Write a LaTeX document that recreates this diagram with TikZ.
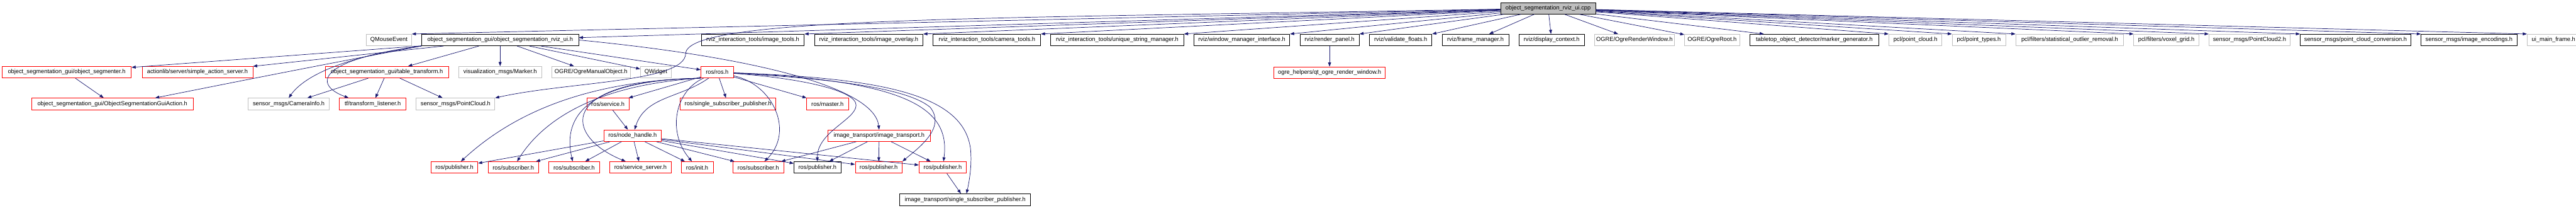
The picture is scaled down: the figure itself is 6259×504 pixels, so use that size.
\documentclass[tikz,border=0pt]{standalone}
\usepackage{fontspec}
\usepackage{tikz}
\usetikzlibrary{arrows.meta,positioning}
\newfontfamily\dotfont{Liberation Sans}
\definecolor{EdgeBlue}{HTML}{191970}
\definecolor{DocRed}{HTML}{FF0000}
\definecolor{ExtGrey}{HTML}{BFBFBF}
\definecolor{RootGrey}{HTML}{BFBFBF}

\begin{document}
\begin{tikzpicture}[x=0.5pt,y=-0.5pt,
  fbox/.style={draw=black,fill=white,font=\dotfont\fontsize{7.1}{8.5}\selectfont,
    minimum height=14pt,inner sep=0pt,line width=0.6pt},
  rbox/.style={fbox,draw=DocRed},
  gbox/.style={fbox,draw=ExtGrey},
  rootbox/.style={fbox,fill=RootGrey},
  arr/.style={-{Triangle[length=5pt,width=3.6pt]},line width=0.55pt,draw=EdgeBlue}
]
  \useasboundingbox (0,0) rectangle (6259,504);

  % Root
  \node[rootbox,minimum width=115.5pt] (cpp) at (3761.5,20) {object\_segmentation\_rviz\_ui.cpp};

  % Level 1
  \node[gbox,minimum width=55pt] (qmouse) at (945,97) {QMouseEvent};
  \node[fbox,minimum width=190.5pt,right=11.75pt of qmouse] (rvizuih) {object\_segmentation\_gui/object\_segmentation\_rviz\_ui.h};
  \node[fbox,minimum width=125pt] (imgtools) at (1829,97) {rviz\_interaction\_tools/image\_tools.h};
  \node[fbox,minimum width=132pt,right=11.75pt of imgtools] (imgoverlay) {rviz\_interaction\_tools/image\_overlay.h};
  \node[fbox,minimum width=130.5pt,right=11.75pt of imgoverlay] (camtools) {rviz\_interaction\_tools/camera\_tools.h};
  \node[fbox,minimum width=161.5pt,right=11.75pt of camtools] (uniqstr) {rviz\_interaction\_tools/unique\_string\_manager.h};
  \node[fbox,minimum width=116.5pt,right=11.75pt of uniqstr] (winmgr) {rviz/window\_manager\_interface.h};
  \node[fbox,minimum width=72pt,right=11.75pt of winmgr] (renderpanel) {rviz/render\_panel.h};
  \node[fbox,minimum width=76pt,right=11.75pt of renderpanel] (valfloats) {rviz/validate\_floats.h};
  \node[fbox,minimum width=81pt,right=11.75pt of valfloats] (framemgr) {rviz/frame\_manager.h};
  \node[fbox,minimum width=79.5pt,right=11.75pt of framemgr] (dispctx) {rviz/display\_context.h};
  \node[gbox,minimum width=97pt,right=11.75pt of dispctx] (ogrerw) {OGRE/OgreRenderWindow.h};
  \node[gbox,minimum width=67pt,right=11.75pt of ogrerw] (ogreroot) {OGRE/OgreRoot.h};
  \node[fbox,minimum width=156.5pt,right=11.75pt of ogreroot] (markergen) {tabletop\_object\_detector/marker\_generator.h};
  \node[gbox,minimum width=64.5pt,right=11.75pt of markergen] (pclcloud) {pcl/point\_cloud.h};
  \node[gbox,minimum width=65pt,right=11.75pt of pclcloud] (pcltypes) {pcl/point\_types.h};
  \node[gbox,minimum width=131pt,right=11.75pt of pcltypes] (pclsor) {pcl/filters/statistical\_outlier\_removal.h};
  \node[gbox,minimum width=79pt,right=11.75pt of pclsor] (pclvoxel) {pcl/filters/voxel\_grid.h};
  \node[gbox,minimum width=98.5pt,right=11.75pt of pclvoxel] (pctwo) {sensor\_msgs/PointCloud2.h};
  \node[fbox,minimum width=134.5pt,right=11.75pt of pctwo] (pcconv) {sensor\_msgs/point\_cloud\_conversion.h};
  \node[fbox,minimum width=116.5pt,right=11.75pt of pcconv] (imgenc) {sensor\_msgs/image\_encodings.h};
  \node[gbox,minimum width=64pt,right=11.75pt of imgenc] (uimain) {ui\_main\_frame.h};

  % Level 2
  \node[rbox,minimum width=157pt] (segmenter) at (162,175) {object\_segmentation\_gui/object\_segmenter.h};
  \node[rbox,minimum width=134.5pt,right=12.5pt of segmenter] (actionsrv) {actionlib/server/simple\_action\_server.h};
  \node[rbox,minimum width=150pt] (tabletrans) at (940,175) {object\_segmentation\_gui/table\_transform.h};
  \node[gbox,minimum width=100.5pt,right=11.75pt of tabletrans] (marker) {visualization\_msgs/Marker.h};
  \node[gbox,minimum width=95.5pt,right=11.75pt of marker] (ogremo) {OGRE/OgreManualObject.h};
  \node[gbox,minimum width=37.5pt,right=11.75pt of ogremo] (qwidget) {QWidget};
  \node[rbox,minimum width=39.5pt] (rosh) at (1742.5,175) {ros/ros.h};
  \node[rbox,minimum width=135.5pt,below=25pt of renderpanel] (qtogrerw) {ogre\_helpers/qt\_ogre\_render\_window.h};

  % Level 3
  \node[rbox,minimum width=196pt] (guiaction) at (273,252) {object\_segmentation\_gui/ObjectSegmentationGuiAction.h};
  \node[gbox,minimum width=98.5pt] (camerainfo) at (701.5,252) {sensor\_msgs/CameraInfo.h};
  \node[rbox,minimum width=81pt,right=11.75pt of camerainfo] (tflistener) {tf/transform\_listener.h};
  \node[gbox,minimum width=95.5pt,right=11.75pt of tflistener] (pointcloud) {sensor\_msgs/PointCloud.h};
  \node[rbox,minimum width=51pt] (service) at (1477,252) {ros/service.h};
  \node[rbox,minimum width=116pt] (ssp) at (1769,252) {ros/single\_subscriber\_publisher.h};
  \node[rbox,minimum width=51.5pt] (master) at (2010.5,252) {ros/master.h};

  % Level 4
  \node[rbox,minimum width=70pt] (nodehandle) at (1537,329) {ros/node\_handle.h};
  \node[rbox,minimum width=125pt] (imgtransport) at (2136,329) {image\_transport/image\_transport.h};

  % Level 5
  \node[rbox,minimum width=57pt] (pubA) at (1104,406) {ros/publisher.h};
  \node[rbox,minimum width=61pt,right=12pt of pubA] (subA) {ros/subscriber.h};
  \node[rbox,minimum width=61.5pt,right=12pt of subA] (subB) {ros/subscriber.h};
  \node[rbox,minimum width=74.5pt,right=12pt of subB] (srvserver) {ros/service\_server.h};
  \node[rbox,minimum width=39pt,right=11.5pt of srvserver] (init) {ros/init.h};
  \node[rbox,minimum width=61.5pt] (subC) at (1842.5,406) {ros/subscriber.h};
  \node[fbox,minimum width=57pt,right=12pt of subC] (pubB) {ros/publisher.h};
  \node[rbox,minimum width=57pt] (pubC) at (2135,406) {ros/publisher.h};
  \node[rbox,minimum width=57.5pt] (pubD) at (2290.5,406) {ros/publisher.h};

  % Level 6
  \node[fbox,minimum width=159pt] (itssp) at (2345,484) {image\_transport/single\_subscriber\_publisher.h};

  % cpp includes
  \draw[arr] (cpp)--(qmouse.north east); \draw[arr] (cpp)--(rvizuih);
  \draw[arr] (cpp)--(imgtools.north east); \draw[arr] (cpp)--(imgoverlay.north east);
  \draw[arr] (cpp)--(camtools.north east); \draw[arr] (cpp)--(uniqstr.north east);
  \draw[arr] (cpp)--(winmgr.north east); \draw[arr] (cpp)--(renderpanel.north east);
  \draw[arr] (cpp)--(valfloats.north east); \draw[arr] (cpp)--(framemgr);
  \draw[arr] (cpp)--(dispctx); \draw[arr] (cpp)--(ogrerw);
  \draw[arr] (cpp)--(ogreroot); \draw[arr] (cpp)--(markergen);
  \draw[arr] (cpp)--(pclcloud.north west); \draw[arr] (cpp)--(pcltypes.north west);
  \draw[arr] (cpp)--(pclsor.north west); \draw[arr] (cpp)--(pclvoxel.north west);
  \draw[arr] (cpp)--(pctwo.north west); \draw[arr] (cpp)--(pcconv.north west);
  \draw[arr] (cpp)--(imgenc.north west); \draw[arr] (cpp)--(uimain.north west);
  \draw[arr] (cpp) .. controls (2400,45) and (1668,40) .. (1666,130)
    .. controls (1664,200) and (1380,198) .. (pointcloud.north east);

  % rviz ui header
  \draw[arr] (rvizuih)--(segmenter); \draw[arr] (rvizuih)--(actionsrv);
  \draw[arr] (rvizuih.south west) .. controls (820,150) and (640,185) .. (guiaction.8);
  \draw[arr] (rvizuih.south west) .. controls (820,140) and (735,190) .. (camerainfo.north);
  \draw[arr] (rvizuih.south west) .. controls (770,145) and (760,205) .. (tflistener.166);
  \draw[arr] (rvizuih)--(tabletrans); \draw[arr] (rvizuih)--(marker);
  \draw[arr] (rvizuih)--(ogremo); \draw[arr] (rvizuih)--(qwidget);
  \draw[arr] (rvizuih)--(rosh);
  \draw[arr] (rvizuih.east) .. controls (1850,140) and (2125,215) .. (imgtransport.north);
  \draw[arr] (segmenter)--(guiaction);
  \draw[arr] (tabletrans)--(camerainfo); \draw[arr] (tabletrans)--(tflistener);
  \draw[arr] (tabletrans)--(pointcloud);
  \draw[arr] (renderpanel)--(qtogrerw);

  % ros.h
  \draw[arr] (rosh)--(service); \draw[arr] (rosh)--(ssp); \draw[arr] (rosh)--(master);
  \draw[arr] (rosh) to[out=215,in=72] (nodehandle);
  \draw[arr] (rosh.south west) .. controls (1400,196) and (1230,290) .. (pubA);
  \draw[arr] (rosh.south west) .. controls (1450,205) and (1320,290) .. (subA);
  \draw[arr] (rosh.south west) .. controls (1400,195) and (1370,300) .. (subB);
  \draw[arr] (rosh.south west) .. controls (1350,195) and (1370,330) .. (srvserver);
  \draw[arr] (rosh) .. controls (1640,220) and (1620,320) .. (init);
  \draw[arr] (rosh) .. controls (1880,205) and (1930,320) .. (subC);
  \draw[arr] (rosh) .. controls (1950,190) and (2080,220) .. (2080,255)
    .. controls (2080,290) and (1985,320) .. (pubB);
  \draw[arr] (rosh) .. controls (2000,190) and (2200,210) .. (2260,260)
    .. controls (2300,310) and (2230,360) .. (pubC.north east);
  \draw[arr] (rosh) .. controls (2200,195) and (2310,260) .. (pubD);
  \draw[arr] (rosh) .. controls (2150,190) and (2340,230) .. (2358,360)
    .. controls (2362,400) and (2355,440) .. (itssp);

  % node handle and image transport
  \draw[arr] (service)--(nodehandle);
  \draw[arr] (nodehandle)--(pubA); \draw[arr] (nodehandle)--(subA);
  \draw[arr] (nodehandle)--(subB); \draw[arr] (nodehandle)--(srvserver);
  \draw[arr] (nodehandle)--(init); \draw[arr] (nodehandle)--(subC);
  \draw[arr] (nodehandle)--(pubB); \draw[arr] (nodehandle)--(pubC);
  \draw[arr] (nodehandle)--(pubD);
  \draw[arr] (imgtransport)--(subC); \draw[arr] (imgtransport)--(pubB);
  \draw[arr] (imgtransport)--(pubC); \draw[arr] (imgtransport)--(pubD);
  \draw[arr] (pubD)--(itssp);
\end{tikzpicture}
\end{document}
